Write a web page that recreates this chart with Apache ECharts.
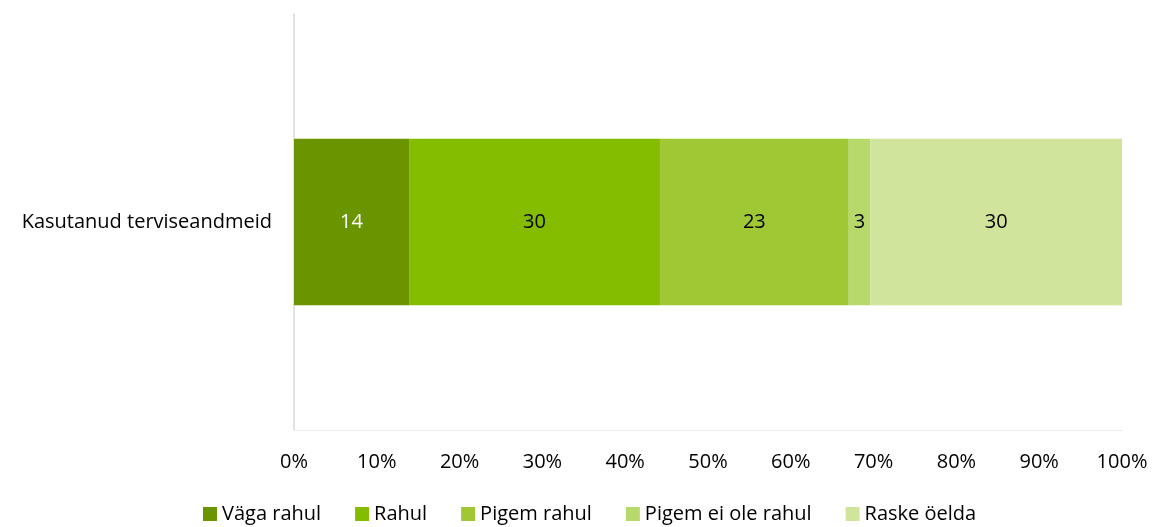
<!DOCTYPE html>
<html><head><meta charset="utf-8">
<script src="https://cdn.jsdelivr.net/npm/echarts@6/dist/echarts.min.js"></script>
<style>html,body{margin:0;padding:0;background:#fff}#c{width:1153px;height:527px}</style>
</head><body><div id="c"></div>
<script>
const categories = ['Kasutanud terviseandmeid'];
const seriesNames = ['Väga rahul', 'Rahul', 'Pigem rahul', 'Pigem ei ole rahul', 'Raske öelda'];
const vagaRahul = [13.9];
const rahul = [30.3];
const pigemRahul = [22.8];
const pigemEiOleRahul = [2.6];
const raskeOelda = [30.4];
const tickLabels = ['0%','10%','20%','30%','40%','50%','60%','70%','80%','90%','100%'];

const values = [vagaRahul, rahul, pigemRahul, pigemEiOleRahul, raskeOelda];
const colors = ['#6a9500', '#84bd00', '#9fc834', '#b7d86b', '#d0e49b'];
const labelColors = ['#ffffff', '#000000', '#000000', '#000000', '#000000'];
const font = '"Open Sans", Lato, sans-serif';

const chart = echarts.init(document.getElementById('c'));
chart.setOption({
  animation: false,
  grid: { left: 294, right: 31, top: 14, bottom: 97, containLabel: false },
  legend: {
    top: 499, left: 198,
    itemWidth: 14, itemHeight: 14, itemGap: 34,
    icon: 'rect',
    textStyle: { fontFamily: font, fontSize: 20, color: '#000' },
    data: seriesNames
  },
  xAxis: {
    type: 'value', min: 0, max: 100, interval: 10,
    axisLine: { show: true, lineStyle: { color: '#ececec', width: 1 } }, axisTick: { show: false },
    splitLine: { show: false },
    axisLabel: { formatter: v => tickLabels[Math.round(v/10)], fontFamily: font, fontSize: 20, color: '#000', margin: 22 }
  },
  yAxis: {
    type: 'category', data: categories,
    axisLine: { show: true, lineStyle: { color: '#d9d9d9', width: 1.5 } },
    axisTick: { show: false },
    axisLabel: { fontFamily: font, fontSize: 20, color: '#000', margin: 22 }
  },
  series: seriesNames.map((n, i) => ({
    name: n, type: 'bar', stack: 'a', barWidth: '40%',
    data: values[i],
    itemStyle: { color: colors[i] },
    label: { show: true, position: 'inside', color: labelColors[i], fontFamily: font, fontSize: 20,
      formatter: p => Math.round(p.value) }
  }))
});
</script></body></html>
